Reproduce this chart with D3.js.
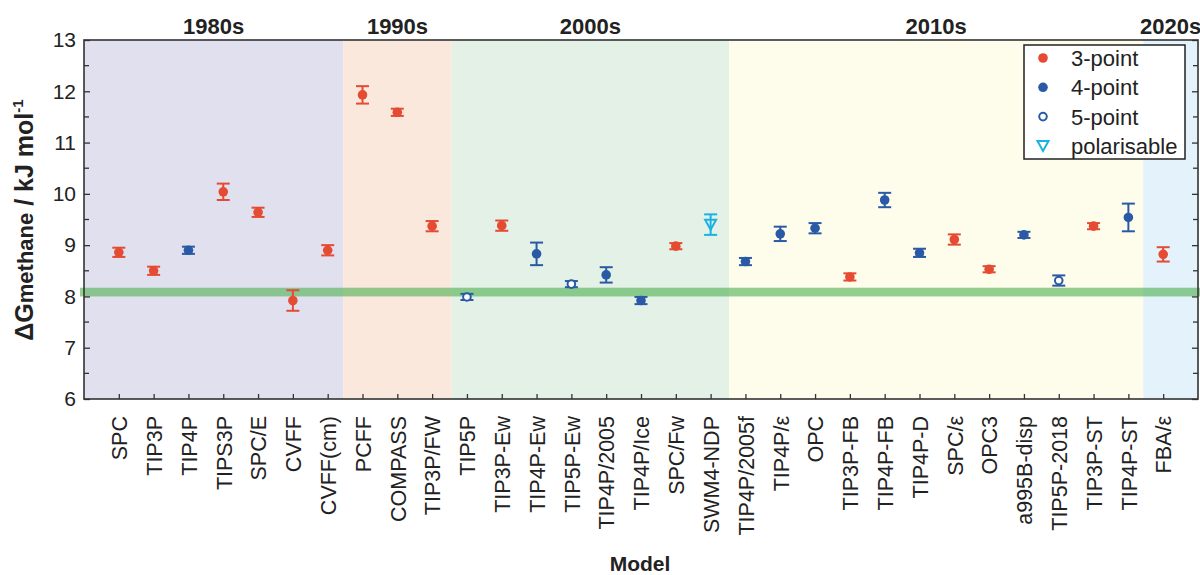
<!DOCTYPE html>
<html><head><meta charset="utf-8">
<script src="https://cdn.jsdelivr.net/npm/d3@7"></script>
<style>
body{margin:0;background:#fff;}
text{font-family:"Liberation Sans",Arial,Helvetica,sans-serif;}
</style></head>
<body><svg id="c" width="1200" height="575"></svg>
<script>
const models = ["SPC","TIP3P","TIP4P","TIPS3P","SPC/E","CVFF","CVFF(cm)","PCFF","COMPASS","TIP3P/FW","TIP5P","TIP3P-Ew","TIP4P-Ew","TIP5P-Ew","TIP4P/2005","TIP4P/Ice","SPC/Fw","SWM4-NDP","TIP4P/2005f","TIP4P/\u03b5","OPC","TIP3P-FB","TIP4P-FB","TIP4P-D","SPC/\u03b5","OPC3","a995B-disp","TIP5P-2018","TIP3P-ST","TIP4P-ST","FBA/\u03b5"];
const types = ["3","3","4","3","3","3","3","3","3","3","5","3","4","5","4","4","3","pol","4","4","4","3","4","4","3","3","4","5","3","4","3"];
const values = [8.86,8.50,8.90,10.04,9.64,7.92,8.90,11.93,11.59,9.37,7.99,9.38,8.83,8.24,8.42,7.92,8.98,9.40,8.68,9.22,9.33,8.38,9.88,8.85,9.11,8.53,9.20,8.31,9.37,9.54,8.82];
const errors = [0.09,0.08,0.07,0.16,0.09,0.20,0.10,0.17,0.07,0.10,0.06,0.10,0.22,0.06,0.15,0.07,0.06,0.20,0.07,0.14,0.10,0.07,0.14,0.08,0.10,0.06,0.06,0.10,0.06,0.27,0.14];
const decadeLabels = ["1980s","1990s","2000s","2010s","2020s"];
const decadeStart = [-1, 6.45, 9.56, 17.53, 29.43];
const decadeEnd = [6.45, 9.56, 17.53, 29.43, 31];
const decadeColors = ["#e1e0ef","#fbe8dc","#e3f1e6","#fefcea","#e3f2fb"];
const refLow = 8.0, refHigh = 8.17;
const yTicks = [6,7,8,9,10,11,12,13];
const legendKeys = ["3","4","5","pol"];
const legendLabels = ["3-point","4-point","5-point","polarisable"];
const typeColor = {"3":"#e54a33","4":"#2a5aa6","5":"#2a5aa6","pol":"#19b2e6"};

const svg = d3.select("#c");
const L=84,R=1198,T=40,B=399;
const x = d3.scaleLinear().domain([-1,31]).range([L,R]);
const y = d3.scaleLinear().domain([6,13]).range([B,T]);

// decade bands
svg.append("g").selectAll("rect").data(decadeLabels).join("rect")
  .attr("x",(d,i)=>x(decadeStart[i])).attr("width",(d,i)=>x(decadeEnd[i])-x(decadeStart[i]))
  .attr("y",T).attr("height",B-T).attr("fill",(d,i)=>decadeColors[i]);
svg.append("g").selectAll("text").data(decadeLabels).join("text")
  .attr("x",(d,i)=>(x(decadeStart[i])+x(decadeEnd[i]))/2).attr("y",34)
  .attr("text-anchor","middle").attr("font-weight","bold").attr("font-size",22).attr("fill","#222")
  .text(d=>d);

// reference band
svg.append("rect").attr("x",80).attr("width",1200-80).attr("y",y(refHigh)).attr("height",y(refLow)-y(refHigh))
  .attr("fill","rgb(76,175,80)").attr("fill-opacity",0.6);

// axes
const axStroke="#333";
const yLeft = d3.axisLeft(y).tickValues(yTicks).tickSize(-6).tickPadding(8).tickFormat(d3.format("d"));
const gL = svg.append("g").attr("transform",`translate(${L},0)`).call(yLeft);
const minor = d3.range(6.5,13,1);
gL.selectAll(".minor").data(minor).join("line").attr("class","minor")
  .attr("x1",0).attr("x2",5).attr("y1",d=>y(d)).attr("y2",d=>y(d)).attr("stroke",axStroke).attr("stroke-width",1.3);
gL.selectAll("text").attr("font-size",21).attr("fill","#222").attr("font-family","Liberation Sans, Arial, sans-serif");
const gR = svg.append("g").attr("transform",`translate(${R},0)`).call(d3.axisRight(y).tickValues(yTicks).tickSize(-6).tickFormat(""));
gR.selectAll(".minor").data(minor).join("line").attr("class","minor")
  .attr("x1",0).attr("x2",-5).attr("y1",d=>y(d)).attr("y2",d=>y(d)).attr("stroke",axStroke).attr("stroke-width",1.3);
const xAxis = d3.axisBottom(x).tickValues(d3.range(models.length)).tickSize(-5).tickPadding(0).tickFormat(i=>models[i]);
const gB = svg.append("g").attr("transform",`translate(0,${B})`).call(xAxis);
gB.selectAll("text").attr("transform","rotate(-90)").attr("text-anchor","end")
  .attr("x",-17).attr("y",0).attr("dy","0.36em").attr("font-size",21.5).attr("fill","#222")
  .attr("font-family","Liberation Sans, Arial, sans-serif");
[gL,gR,gB].forEach(g=>{g.selectAll(".domain").attr("stroke","none");g.selectAll(".tick line").attr("stroke",axStroke).attr("stroke-width",1.3);});
svg.append("rect").attr("x",L).attr("y",T).attr("width",R-L).attr("height",B-T)
  .attr("fill","none").attr("stroke",axStroke).attr("stroke-width",1.6);

// error bars
const pts = svg.append("g");
const capW=6.5;
models.forEach((m,i)=>{
  const c = typeColor[types[i]];
  const g = pts.append("g").attr("stroke",c).attr("stroke-width",2);
  const cx=x(i), y1=y(values[i]-errors[i]), y2=y(values[i]+errors[i]);
  g.append("line").attr("x1",cx).attr("x2",cx).attr("y1",y1).attr("y2",y2);
  g.append("line").attr("x1",cx-capW).attr("x2",cx+capW).attr("y1",y1).attr("y2",y1);
  g.append("line").attr("x1",cx-capW).attr("x2",cx+capW).attr("y1",y2).attr("y2",y2);
});
function marker(sel,t,cx,cy){
  const c=typeColor[t];
  if(t==="3"||t==="4") sel.append("circle").attr("cx",cx).attr("cy",cy).attr("r",4.8).attr("fill",c);
  else if(t==="5") sel.append("circle").attr("cx",cx).attr("cy",cy).attr("r",3.8).attr("fill","#fff").attr("stroke",c).attr("stroke-width",2);
  else sel.append("path").attr("d",`M${cx-5.5},${cy-5}L${cx+5.5},${cy-5}L${cx},${cy+5}Z`).attr("fill","none").attr("stroke",c).attr("stroke-width",2);
}
models.forEach((m,i)=>marker(pts,types[i],x(i),y(values[i])));

// legend
const lg = svg.append("g");
lg.append("rect").attr("x",1024).attr("y",45).attr("width",161).attr("height",114).attr("fill","#fff").attr("stroke","#222").attr("stroke-width",1.5);
legendKeys.forEach((k,i)=>{
  const ly = 58+i*29.3;
  marker(lg,k,1043,ly);
  lg.append("text").attr("x",1071).attr("y",ly).attr("dy","0.36em").attr("font-size",22).attr("fill","#222").text(legendLabels[i]);
});

// axis titles
const yl = svg.append("text").attr("transform","translate(33,220) rotate(-90)").attr("text-anchor","middle")
  .attr("font-weight","bold").attr("font-size",25).attr("fill","#222");
yl.append("tspan").text("\u0394G");
yl.append("tspan").attr("font-size",22).text("methane");
yl.append("tspan").text(" / kJ mol");
yl.append("tspan").attr("font-size",15).attr("dy",-10).text("-1");
svg.append("text").attr("x",640).attr("y",571).attr("text-anchor","middle").attr("font-weight","bold").attr("font-size",21).attr("fill","#222").text("Model");
</script></body></html>
